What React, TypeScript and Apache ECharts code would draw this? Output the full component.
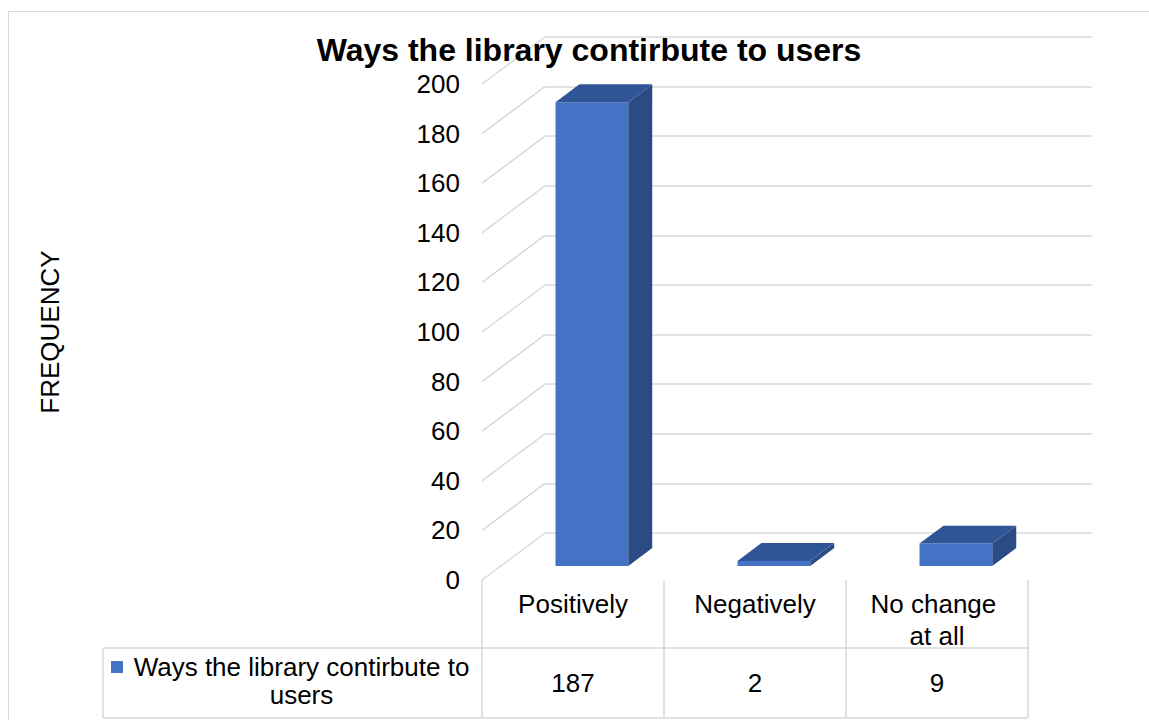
import React, { useEffect, useRef } from 'react';
import * as echarts from 'echarts';

// ---- data ----
const TITLE = 'Ways the library contirbute to users';
const SERIES_NAME = 'Ways the library contirbute to users';
const AXIS_NAME = 'FREQUENCY';
const CATEGORIES = ['Positively', 'Negatively', 'No change at all'];
const VALUES = [187, 2, 9];
const Y_TICKS = [0, 20, 40, 60, 80, 100, 120, 140, 160, 180, 200];

// ---- layout / style ----
const FONT = 'Arial, "Liberation Sans", sans-serif';
const GRID_COLOR = '#d9d9d9';
const FRONT_COLOR = '#4472C4';
const TOP_COLOR = '#2F5597';
const SIDE_COLOR = '#2A4B83';
const FRONT = { left: 482, top: 84, width: 546, height: 496 };
const DEPTH = { x: 63, y: 47 }; // floor depth (front edge -> back wall)
const BAR_FRONT = 0.3; // bar front face position within the depth
const BAR_DEPTH = 0.38; // bar thickness as fraction of the depth
const BAR_WIDTH = 0.4; // fraction of category band
const TABLE = { legendLeft: 103, row1Top: FRONT.top + FRONT.height, row2Top: 648, bottom: 718 };

export default function App() {
  const ref = useRef<HTMLDivElement>(null);

  useEffect(() => {
    const chart = echarts.init(ref.current!, null, { renderer: 'svg' });

    const barItem = (params: any, api: any) => {
      const idx = api.value(0);
      const val = api.value(1);
      const base = api.coord([idx, 0]);
      const top = api.coord([idx, val]);
      const band = api.size([1, 0])[0];
      const w = band * BAR_WIDTH;
      const fx = DEPTH.x * BAR_FRONT;
      const fy = DEPTH.y * BAR_FRONT;
      const bx = DEPTH.x * BAR_DEPTH;
      const by = DEPTH.y * BAR_DEPTH;
      const x0 = base[0] + fx - w / 2;
      const x1 = x0 + w;
      const yb = base[1] - fy;
      const yt = top[1] - fy;
      return {
        type: 'group',
        children: [
          { type: 'polygon', shape: { points: [[x0, yt], [x1, yt], [x1, yb], [x0, yb]] }, style: { fill: FRONT_COLOR } },
          { type: 'polygon', shape: { points: [[x1, yt], [x1 + bx, yt - by], [x1 + bx, yb - by], [x1, yb]] }, style: { fill: SIDE_COLOR } },
          { type: 'polygon', shape: { points: [[x0, yt], [x0 + bx, yt - by], [x1 + bx, yt - by], [x1, yt]] }, style: { fill: TOP_COLOR } },
        ],
      };
    };

    const wallItem = (params: any, api: any) => {
      const p = api.coord([0, api.value(1)]);
      const x = params.coordSys.x;
      return {
        type: 'line',
        shape: { x1: x, y1: p[1], x2: x + DEPTH.x, y2: p[1] - DEPTH.y },
        style: { stroke: GRID_COLOR, lineWidth: 1.5 },
      };
    };

    const labelFont = { fontFamily: FONT, fontSize: 26, color: '#000' };

    chart.setOption({
      animation: false,
      backgroundColor: '#fff',
      title: {
        text: TITLE,
        left: 584,
        top: 29,
        textAlign: 'center',
        textStyle: { fontFamily: FONT, fontSize: 32, fontWeight: 'bold', color: '#000' },
      },
      grid: [
        { left: FRONT.left, top: FRONT.top, width: FRONT.width, height: FRONT.height },
        { left: FRONT.left + DEPTH.x, top: FRONT.top - DEPTH.y, width: FRONT.width + 1, height: FRONT.height },
      ],
      xAxis: [
        {
          type: 'category',
          gridIndex: 0,
          data: CATEGORIES,
          axisLine: { show: false },
          axisTick: { show: false },
          axisLabel: { ...labelFont, interval: 0, width: 140, overflow: 'break', lineHeight: 32, margin: 8 },
        },
        { type: 'category', gridIndex: 1, data: CATEGORIES, show: false },
      ],
      yAxis: [
        {
          type: 'value',
          gridIndex: 0,
          min: 0,
          max: 200,
          interval: 20,
          name: AXIS_NAME,
          nameLocation: 'middle',
          nameRotate: 90,
          nameGap: 419,
          nameTextStyle: { ...labelFont },
          axisLine: { show: false },
          axisTick: { show: false },
          splitLine: { show: false },
          axisLabel: { ...labelFont, margin: 22 },
        },
        {
          type: 'value',
          gridIndex: 1,
          min: 0,
          max: 200,
          interval: 20,
          axisLine: { show: false },
          axisTick: { show: false },
          axisLabel: { show: false },
          splitLine: { show: true, lineStyle: { color: GRID_COLOR, width: 1.5 } },
        },
      ],
      series: [
        {
          type: 'custom',
          name: 'wall',
          xAxisIndex: 0,
          yAxisIndex: 0,
          clip: false,
          silent: true,
          z: 1,
          renderItem: wallItem,
          encode: { x: 0, y: 1 },
          data: Y_TICKS.map((t) => [0, t]),
        },
        {
          type: 'custom',
          name: SERIES_NAME,
          xAxisIndex: 0,
          yAxisIndex: 0,
          clip: false,
          z: 3,
          renderItem: barItem,
          encode: { x: 0, y: 1 },
          data: VALUES.map((v, i) => [i, v]),
        },
      ],
    });

    // data table under the plot, aligned with the category scale
    const xs = CATEGORIES.map((c) => chart.convertToPixel({ xAxisIndex: 0 }, c) as number);
    const band = FRONT.width / CATEGORIES.length;
    const lineStyle = { stroke: GRID_COLOR, lineWidth: 1.5 };
    const right = FRONT.left + FRONT.width;
    const graphics: any[] = [
      // chart area border
      { type: 'rect', shape: { x: 8.5, y: 11.5, width: 1300, height: 900 }, style: { fill: 'none', stroke: GRID_COLOR, lineWidth: 1 }, silent: true },
      { type: 'line', shape: { x1: TABLE.legendLeft, y1: TABLE.row2Top, x2: right, y2: TABLE.row2Top }, style: lineStyle },
      { type: 'line', shape: { x1: TABLE.legendLeft, y1: TABLE.bottom, x2: right, y2: TABLE.bottom }, style: lineStyle },
      { type: 'line', shape: { x1: TABLE.legendLeft, y1: TABLE.row2Top, x2: TABLE.legendLeft, y2: TABLE.bottom }, style: lineStyle },
      { type: 'rect', shape: { x: 111, y: 661, width: 12, height: 12 }, style: { fill: FRONT_COLOR } },
      {
        type: 'text',
        style: {
          text: SERIES_NAME.replace(' users', '\nusers'),
          x: 301.5,
          y: 681,
          align: 'center',
          verticalAlign: 'middle',
          lineHeight: 28,
          font: `26px ${FONT}`,
          fill: '#000',
        },
      },
    ];
    xs.forEach((x, i) => {
      const edge = x - band / 2;
      graphics.push({ type: 'line', shape: { x1: edge, y1: TABLE.row1Top, x2: edge, y2: TABLE.bottom }, style: lineStyle });
      graphics.push({
        type: 'text',
        style: { text: String(VALUES[i]), x, y: 683, align: 'center', verticalAlign: 'middle', font: `26px ${FONT}`, fill: '#000' },
      });
    });
    graphics.push({ type: 'line', shape: { x1: right, y1: TABLE.row1Top, x2: right, y2: TABLE.bottom }, style: lineStyle });

    chart.setOption({ graphic: graphics });

    return () => chart.dispose();
  }, []);

  return (
    <div
      ref={ref}
      style={{ position: 'fixed', left: 0, top: 0, width: 1149, height: 720, background: '#fff' }}
    />
  );
}
